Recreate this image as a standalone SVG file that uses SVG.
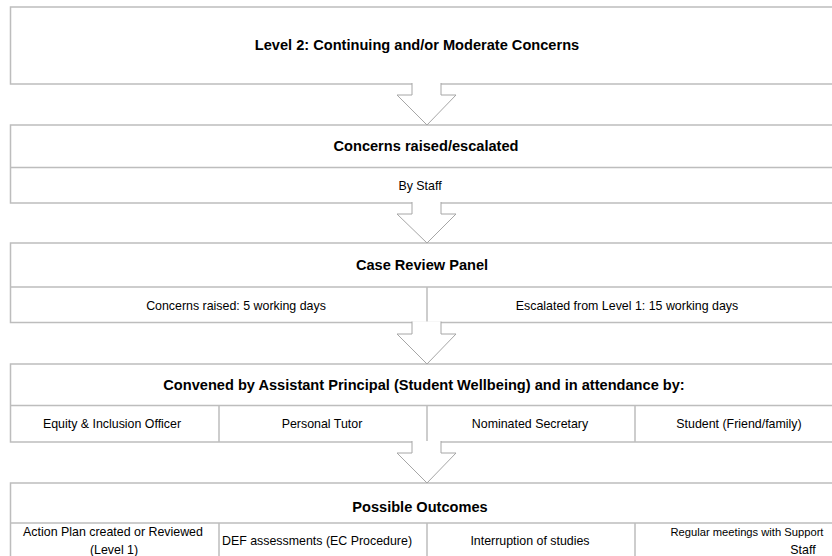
<svg xmlns="http://www.w3.org/2000/svg" width="832" height="556" viewBox="0 0 832 556">
<style>
.box{fill:#fff;stroke:#bdbdbd;stroke-width:1.5}
.ln{stroke:#bdbdbd;stroke-width:1.5;fill:none}
.arr{fill:#fff;stroke:#a6a6a6;stroke-width:1}
.h{font-family:"Liberation Sans",Arial,sans-serif;font-weight:bold;font-size:14.6px;fill:#000;text-anchor:middle}
.t{font-family:"Liberation Sans",Arial,sans-serif;font-size:12.4px;fill:#000;text-anchor:middle}
.s{font-size:11.2px}
</style>
<rect width="832" height="556" fill="#fff"/>
<g id="level2">
<rect class="box" x="10.5" y="7" width="833" height="77"/>
<text class="h" x="417" y="50">Level 2: Continuing and/or Moderate Concerns</text>
</g>
<g id="concerns">
<rect class="box" x="10.5" y="125" width="833" height="78"/>
<line class="ln" x1="10.5" y1="167.5" x2="843.5" y2="167.5"/>
<text class="h" x="426" y="151">Concerns raised/escalated</text>
<text class="t" x="420" y="189.5">By Staff</text>
</g>
<g id="panel">
<rect class="box" x="10.5" y="243" width="833" height="79.5"/>
<line class="ln" x1="10.5" y1="287" x2="843.5" y2="287"/>
<line class="ln" x1="427" y1="287" x2="427" y2="322.5"/>
<text class="h" x="422" y="270">Case Review Panel</text>
<text class="t" x="236" y="309.5">Concerns raised: 5 working days</text>
<text class="t" x="627" y="309.5">Escalated from Level 1: 15 working days</text>
</g>
<g id="convened">
<rect class="box" x="10.5" y="364" width="833" height="78"/>
<line class="ln" x1="10.5" y1="405.5" x2="843.5" y2="405.5"/>
<line class="ln" x1="219" y1="405.5" x2="219" y2="442"/>
<line class="ln" x1="427" y1="405.5" x2="427" y2="442"/>
<line class="ln" x1="635" y1="405.5" x2="635" y2="442"/>
<text class="h" x="424" y="390">Convened by Assistant Principal (Student Wellbeing) and in attendance by:</text>
<text class="t" x="112" y="427.5">Equity &amp; Inclusion Officer</text>
<text class="t" x="322" y="427.5">Personal Tutor</text>
<text class="t" x="530" y="427.5">Nominated Secretary</text>
<text class="t" x="739" y="427.5">Student (Friend/family)</text>
</g>
<g id="outcomes">
<rect class="box" x="10.5" y="483" width="833" height="80"/>
<line class="ln" x1="10.5" y1="523" x2="843.5" y2="523"/>
<line class="ln" x1="219" y1="523" x2="219" y2="563"/>
<line class="ln" x1="427" y1="523" x2="427" y2="563"/>
<line class="ln" x1="635" y1="523" x2="635" y2="563"/>
<text class="h" x="420" y="512">Possible Outcomes</text>
<text class="t" x="113" y="535.5">Action Plan created or Reviewed</text>
<text class="t" x="114" y="554">(Level 1)</text>
<text class="t" x="317" y="544.5">DEF assessments (EC Procedure)</text>
<text class="t" x="530" y="544.5">Interruption of studies</text>
<text class="t s" x="747" y="535.5">Regular meetings with Support</text>
<text class="t" x="803" y="554">Staff</text>
</g>
<g id="connectors">
<path class="arr" d="M412,83 V95 H397 L427,125 L456,95 H441 V83"/>
<path class="arr" d="M412,202 V214 H397 L427,243 L456,214 H441 V202"/>
<path class="arr" d="M412,321.5 V334 H397 L427,364 L456,334 H441 V321.5"/>
<path class="arr" d="M412,441 V453 H397 L427,483 L456,453 H441 V441"/>
</g>
</svg>
